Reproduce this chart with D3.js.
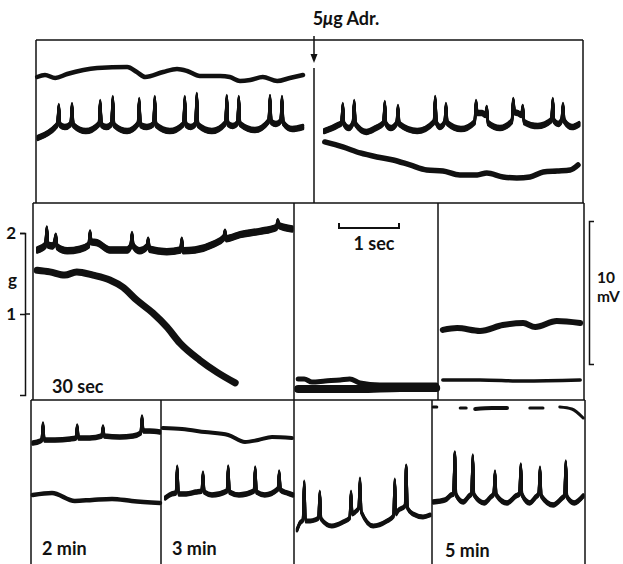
<!DOCTYPE html>
<html>
<head>
<meta charset="utf-8">
<script src="https://cdn.jsdelivr.net/npm/d3@7"></script>
<style>
  html, body { margin: 0; padding: 0; background: #fff; }
  svg { display: block; }
  text { font-family: Lato, "Open Sans", sans-serif; font-weight: 700; fill: #111; }
</style>
</head>
<body>
<svg id="fig" width="623" height="564"></svg>
<script>
// Recordings: time in s from the start of each sweep, potential in mV,
// tension in g. Spikes are [time, foot, peak, level just after].

// Control, before adrenaline
const ctrlSlow = [[0.02,8.81],[0.15,8.95],[0.32,8.74],[0.52,9.02],[1.02,9.44],[1.52,9.51],[1.68,9.16],[1.82,8.81],[2.12,9.16],[2.35,9.37],[2.52,9.23],[2.73,8.88],[3.07,8.88],[3.23,8.81],[3.40,8.53],[3.57,8.60],[3.78,8.81],[4.02,8.53],[4.23,8.74],[4.45,8.95]];
const ctrlBase = [[0.03,4.55],[0.20,4.90],[0.32,5.31],[0.48,5.31],[0.83,5.03],[1.17,5.31],[1.52,5.03],[1.85,5.31],[2.23,5.03],[2.58,5.31],[2.93,5.03],[3.28,5.38],[3.65,5.10],[4.00,5.52],[4.27,5.17],[4.45,5.31]];
const ctrlSpikes = [[0.38,5.52,6.78,5.45],[0.60,5.52,6.85,5.45],[1.07,5.52,7.06,5.45],[1.28,5.52,7.34,5.45],[1.72,5.52,7.20,5.45],[1.98,5.52,7.34,5.45],[2.48,5.52,7.34,5.45],[2.68,5.52,7.55,5.45],[3.18,5.59,7.41,5.52],[3.38,5.59,7.34,5.52],[3.90,5.73,7.41,5.66],[4.10,5.73,7.34,5.59]];

// Right after 5 µg adrenaline
const adrBase = [[0.17,5.03],[0.30,5.24],[0.40,5.45],[0.58,5.24],[0.87,4.97],[1.03,5.24],[1.28,5.24],[1.72,5.03],[2.10,5.31],[2.45,5.17],[2.80,6.29],[3.10,5.24],[3.40,6.29],[3.73,5.38],[4.07,5.52],[4.30,5.31],[4.42,5.52]];
const adrSpikes = [[0.48,5.59,6.85,5.52],[0.67,5.59,7.06,5.52],[1.18,5.59,6.99,5.52],[1.40,5.59,6.71,5.52],[2.02,5.66,7.34,5.59],[2.20,5.66,6.85,5.59],[2.70,5.66,7.06,6.29],[2.88,6.15,6.64,5.59],[3.32,5.73,7.20,6.36],[3.48,6.15,6.71,5.66],[3.98,5.80,7.20,5.73],[4.15,5.80,6.85,5.73]];
const adrSlow = [[0.18,4.27],[0.48,3.92],[0.77,3.50],[1.05,3.22],[1.32,3.01],[1.60,2.66],[1.88,2.31],[2.15,2.24],[2.43,1.96],[2.72,1.96],[2.88,2.10],[3.15,1.82],[3.38,1.75],[3.60,1.82],[3.82,2.17],[4.05,2.24],[4.27,2.31],[4.40,2.66]];

// 30 sec (tension scale, g)
const s30Base = [[0.07,1.79],[0.33,1.84],[0.57,1.78],[0.78,1.80],[1.07,1.88],[1.28,1.79],[1.57,1.79],[1.78,1.78],[2.23,1.77],[2.70,1.79],[3.00,1.86],[3.45,1.98],[3.78,2.02],[4.32,2.05]];
const s30Spikes = [[0.23,1.85,2.05,1.85],[0.38,1.88,1.96,1.83],[0.95,1.85,2.00,1.89],[1.65,1.84,1.98,1.84],[1.92,1.83,1.91,1.80],[2.48,1.79,1.91,1.78],[3.20,1.94,2.01,1.93],[4.08,2.07,2.14,2.09]];
const s30Slow = [[0.07,1.54],[0.28,1.52],[0.53,1.48],[0.73,1.52],[1.00,1.48],[1.28,1.42],[1.50,1.33],[1.73,1.17],[2.00,1.01],[2.23,0.84],[2.45,0.64],[2.78,0.43],[3.07,0.28],[3.37,0.15]];

// Arrested sweeps
const s60Upper = [[0.07,1.47],[0.17,1.47],[0.30,1.26],[0.52,1.33],[0.77,1.40],[0.93,1.47],[1.10,1.19],[1.43,1.05],[1.85,1.05],[2.37,1.05]];
const s60Lower = [[0.07,0.77],[0.43,0.77],[1.10,0.77],[1.77,0.84],[2.37,0.84]];
const s90Upper = [[0.08,4.90],[0.32,5.03],[0.70,4.83],[1.08,5.24],[1.42,5.38],[1.62,5.10],[1.98,5.52],[2.37,5.38]];
const s90Lower = [[0.08,1.40],[0.70,1.40],[1.42,1.33],[2.37,1.40]];

// Recovery
const m2Base = [[0.03,8.46],[0.15,8.60],[0.40,8.67],[0.65,8.74],[0.98,8.81],[1.48,8.88],[1.70,8.95],[1.98,9.30],[2.15,9.23]];
const m2Spikes = [[0.20,8.67,9.79,8.67],[0.77,8.81,9.65,8.81],[1.20,8.95,9.58,8.95],[1.85,9.16,10.28,9.30]];
const m2Slow = [[0.03,4.83],[0.35,4.97],[0.73,4.41],[1.02,4.48],[1.35,4.55],[1.68,4.41],[2.15,4.27]];

const m3Slow = [[0.03,9.51],[0.35,9.44],[0.73,9.23],[1.12,9.02],[1.40,8.53],[1.62,8.67],[1.85,8.88],[2.18,8.81]];
const m3Base = [[0.07,4.62],[0.18,4.90],[0.42,4.90],[0.58,5.03],[0.85,4.83],[1.30,4.83],[1.73,4.83],[2.10,4.97],[2.20,4.83]];
const m3Spikes = [[0.27,4.97,6.78,4.90],[0.70,5.10,6.36,5.03],[1.12,5.10,6.78,5.03],[1.57,5.10,6.71,5.03],[1.97,5.24,6.43,5.17]];

const m4Base = [[0.05,2.38],[0.10,2.87],[0.27,3.01],[0.35,3.08],[0.63,2.66],[0.82,2.94],[1.02,3.64],[1.32,2.66],[1.55,3.01],[1.73,3.71],[1.98,3.50],[2.15,3.29],[2.27,3.43]];
const m4Spikes = [[0.17,3.08,5.73,3.01],[0.43,3.22,5.03,3.15],[0.95,3.22,5.03,3.50],[1.10,3.92,5.94,3.64],[1.68,3.36,5.87,3.50],[1.87,4.06,6.85,3.92]];

const m5Base = [[0.02,4.34],[0.22,4.48],[0.32,4.83],[0.52,4.34],[0.62,4.76],[0.87,4.27],[0.98,4.69],[1.25,4.27],[1.40,4.76],[1.63,4.27],[1.73,4.69],[2.02,4.13],[2.17,4.62],[2.37,4.27],[2.52,4.76]];
const m5Spikes = [[0.38,4.90,7.76,4.83],[0.68,4.90,7.55,4.83],[1.05,4.90,6.43,4.83],[1.48,4.90,6.92,4.83],[1.80,4.90,6.71,4.76],[2.23,4.76,7.13,4.69]];
const m5Dashes = [
  [[0.02,10.98],[0.08,10.98]],
  [[0.47,10.91],[0.57,10.91]],
  [[0.72,10.84],[1.00,10.91],[1.25,10.91]],
  [[1.63,10.91],[1.85,10.91]],
  [[2.13,10.98],[2.33,10.84],[2.52,10.21]]
];

// Calibration and labels
const gTicks = [1, 2];
const gDomain = [0, 2];
const mvCal = [2.52, 12.52];      // 10 mV bar
const secCal = [0.75, 1.75];      // 1 sec bar
const secCalLevel = 12.03;
const panelLabels = { s30: "30 sec", m2: "2 min", m3: "3 min", m5: "5 min" };

// ---------------- layout ----------------
const SEC_PX = 60, MV_PX = 14.3;
const rows = {
  top: { top: 40, bottom: 203 },
  mid: { top: 203, bottom: 400 },
  bot: { top: 400, bottom: 564 }
};
const panels = {
  ctrl: { row: "top", left: 36, right: 314 },
  adr:  { row: "top", left: 314, right: 583 },
  s30:  { row: "mid", left: 33, right: 294 },
  s60:  { row: "mid", left: 294, right: 438 },
  s90:  { row: "mid", left: 438, right: 584 },
  m2:   { row: "bot", left: 31, right: 161 },
  m3:   { row: "bot", left: 161, right: 294 },
  m4:   { row: "bot", left: 294, right: 432 },
  m5:   { row: "bot", left: 432, right: 585 }
};
const INK = "#111";

const svg = d3.select("#fig");
svg.append("rect").attr("width", 623).attr("height", 564).attr("fill", "#fff");

const rowY = {};
for (const k in rows) {
  const r = rows[k];
  rowY[k] = d3.scaleLinear().domain([0, (r.bottom - r.top) / MV_PX]).range([r.bottom, r.top]);
}
const gScale = d3.scaleLinear().domain(gDomain).range([395, 233]);

const px = {};
for (const k in panels) {
  const p = panels[k];
  px[k] = d3.scaleLinear().domain([0, (p.right - p.left) / SEC_PX]).range([p.left, p.right]);
}

// ---------------- frame ----------------
const frame = svg.append("g").attr("stroke", INK).attr("stroke-width", 1.5).attr("fill", "none");
const seg = (x1, y1, x2, y2) => frame.append("line").attr("x1", x1).attr("y1", y1).attr("x2", x2).attr("y2", y2);
seg(36, 40, 583, 40);
seg(36, 40, 36, 203);
seg(583, 40, 583, 203);
seg(314, 68, 314, 203);
seg(33, 203, 584, 203);
seg(33, 203, 33, 400);
seg(294, 203, 294, 564);
seg(438, 203, 438, 400);
seg(584, 203, 584, 400);
seg(31, 400, 585, 400);
seg(31, 400, 31, 564);
seg(161, 400, 161, 564);
seg(432, 400, 432, 564);
seg(585, 400, 585, 564);

// injection arrow
svg.append("line").attr("x1", 314).attr("y1", 36).attr("x2", 314).attr("y2", 56)
  .attr("stroke", INK).attr("stroke-width", 1.5);
svg.append("path").attr("d", "M310.5,54 L317.5,54 L314,63 Z").attr("fill", INK);
svg.append("text").attr("x", 346).attr("y", 25).attr("text-anchor", "middle").attr("font-size", 18)
  .call(t => {
    t.append("tspan").text("5");
    t.append("tspan").attr("font-style", "italic").text("μ");
    t.append("tspan").text("g Adr.");
  });

// ---------------- traces ----------------
function toPixels(pts, spikes, x, y) {
  const arr = pts.map(([t, v]) => [x(t), y(v)]);
  (spikes || []).forEach(([t, foot, peak, after]) => {
    const cx = x(t);
    arr.push([cx - 1.3, y(foot)], [cx, y(peak)], [cx + 1.3, y(after)]);
  });
  arr.sort((a, b) => a[0] - b[0]);
  return arr;
}
const lineGen = d3.line().curve(d3.curveMonotoneX);

// pen with a flat nib: thick on the flat parts, thin on the fast strokes
function pen(d, width, nib) {
  const g = svg.append("g").attr("fill", "none").attr("stroke", INK)
    .attr("stroke-width", nib).attr("stroke-linecap", "round").attr("stroke-linejoin", "round");
  const half = (width - nib) / 2;
  const steps = Math.max(1, Math.round(half * 2 / 0.6));
  for (let i = 0; i <= steps; i++) {
    const off = -half + (2 * half) * i / steps;
    g.append("path").attr("d", d).attr("transform", `translate(0,${off})`);
  }
}
function smooth(d, width) {
  svg.append("path").attr("d", d).attr("fill", "none").attr("stroke", INK)
    .attr("stroke-width", width).attr("stroke-linecap", "round").attr("stroke-linejoin", "round");
}

const spiking = [
  { panel: "ctrl", base: ctrlBase, spikes: ctrlSpikes, w: 6.5 },
  { panel: "adr",  base: adrBase,  spikes: adrSpikes,  w: 6.5 },
  { panel: "s30",  base: s30Base,  spikes: s30Spikes,  w: 7.5, y: gScale },
  { panel: "m2",   base: m2Base,   spikes: m2Spikes,   w: 5.5 },
  { panel: "m3",   base: m3Base,   spikes: m3Spikes,   w: 5.5 },
  { panel: "m4",   base: m4Base,   spikes: m4Spikes,   w: 5 },
  { panel: "m5",   base: m5Base,   spikes: m5Spikes,   w: 5.5 }
];
spiking.forEach(s => {
  const y = s.y || rowY[panels[s.panel].row];
  pen(lineGen(toPixels(s.base, s.spikes, px[s.panel], y)), s.w, 2.4);
});

const slow = [
  { panel: "ctrl", pts: ctrlSlow, w: 4.5 },
  { panel: "adr",  pts: adrSlow,  w: 5.5 },
  { panel: "s30",  pts: s30Slow,  w: 7, y: gScale },
  { panel: "s60",  pts: s60Upper, w: 5 },
  { panel: "s60",  pts: s60Lower, w: 8 },
  { panel: "s90",  pts: s90Upper, w: 6 },
  { panel: "s90",  pts: s90Lower, w: 3.5 },
  { panel: "m2",   pts: m2Slow,   w: 4.5 },
  { panel: "m3",   pts: m3Slow,   w: 4 }
];
slow.forEach(s => {
  const y = s.y || rowY[panels[s.panel].row];
  smooth(lineGen(toPixels(s.pts, null, px[s.panel], y)), s.w);
});

m5Dashes.forEach((d, i) => {
  smooth(lineGen(toPixels(d, null, px.m5, rowY.bot)), i === 2 ? 4 : 3);
});

// ---------------- calibrations ----------------
const gAxis = svg.append("g").attr("transform", "translate(25,0)")
  .call(d3.axisLeft(gScale).tickValues(gTicks).tickSizeInner(5).tickSizeOuter(5).tickPadding(4).tickFormat(d3.format("d")));
gAxis.attr("font-family", null).attr("font-size", 17);
gAxis.selectAll("path, line").attr("stroke", INK).attr("stroke-width", 1.5);
gAxis.selectAll("text").attr("fill", INK);
svg.append("line").attr("x1", 25).attr("x2", 30).attr("y1", gScale(1)).attr("y2", gScale(1))
  .attr("stroke", INK).attr("stroke-width", 1.5);
svg.append("text").attr("x", 8).attr("y", 286).attr("font-size", 17).text("g");

const mvScale = d3.scaleLinear().domain([0, 10]).range([rowY.mid(mvCal[0]), rowY.mid(mvCal[1])]);
const mvAxis = svg.append("g").attr("transform", "translate(589,0)")
  .call(d3.axisRight(mvScale).tickValues([]).tickSizeOuter(5));
mvAxis.selectAll("path").attr("stroke", INK).attr("stroke-width", 1.5);
svg.append("text").attr("x", 597).attr("y", 283).attr("font-size", 15.5).text("10");
svg.append("text").attr("x", 597).attr("y", 302).attr("font-size", 15.5).text("mV");

const xa = px.s60(secCal[0]), xb = px.s60(secCal[1]), yb = rowY.mid(secCalLevel);
svg.append("path").attr("d", `M${xa},${yb - 5} V${yb} H${xb} V${yb - 5}`)
  .attr("fill", "none").attr("stroke", INK).attr("stroke-width", 2);
svg.append("text").attr("x", (xa + xb) / 2 + 5).attr("y", 250).attr("text-anchor", "middle")
  .attr("font-size", 18).text("1 sec");

// sweep labels
const labelPos = { s30: [52, 393], m2: [42, 555], m3: [172, 555], m5: [445, 557] };
for (const k in panelLabels) {
  svg.append("text").attr("x", labelPos[k][0]).attr("y", labelPos[k][1])
    .attr("font-size", 18).text(panelLabels[k]);
}
</script>
</body>
</html>
